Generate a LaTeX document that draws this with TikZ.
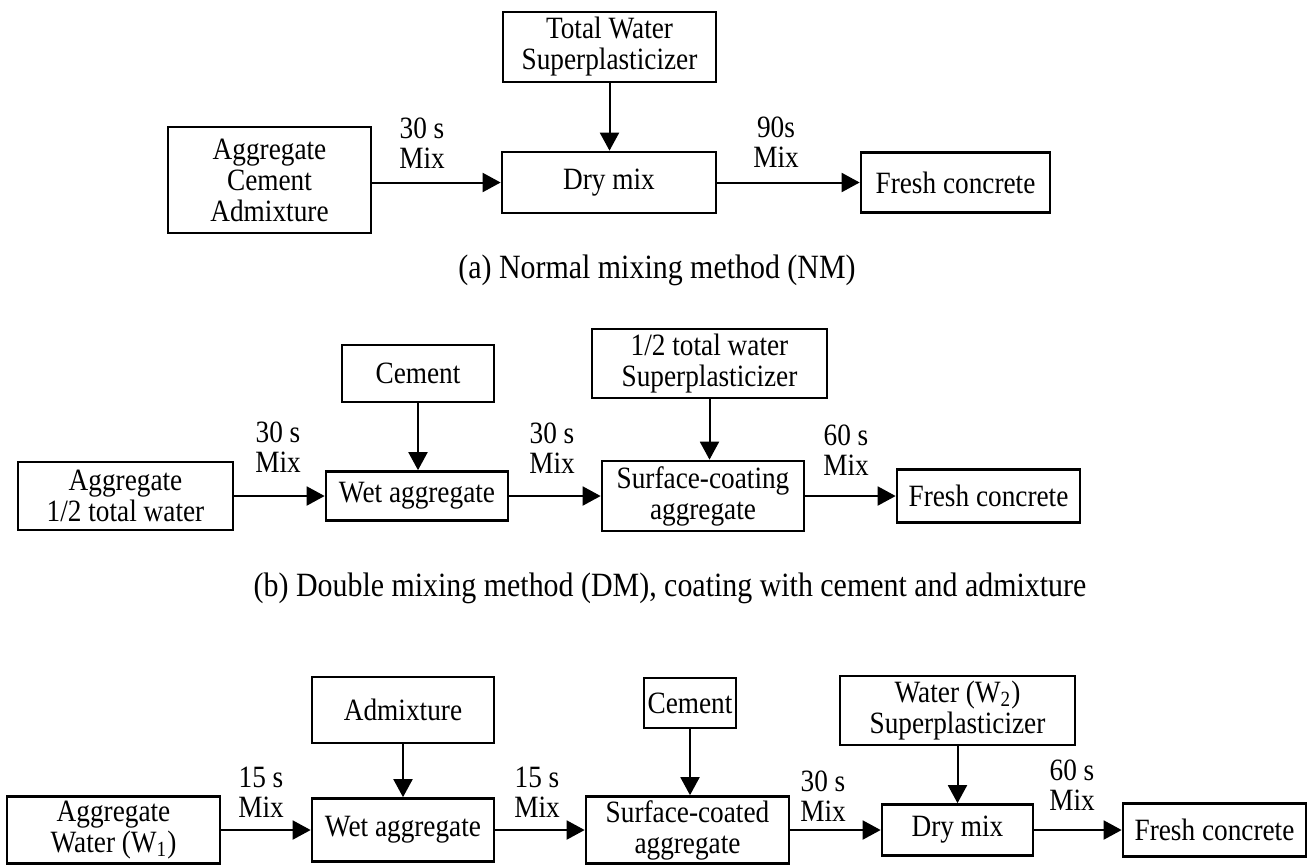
\documentclass[tikz,border=0pt]{standalone}
\usepackage{fontspec}
\setmainfont{Liberation Serif}[FakeStretch=0.88]
\usetikzlibrary{arrows.meta}

\begin{document}
\begin{tikzpicture}[x=0.5pt,y=-0.5pt,
        box/.style={draw,line width=1.35pt,inner sep=0pt,align=center,
            font=\fontsize{15.5}{15.5}\selectfont},
        lbl/.style={inner sep=0pt,align=center,font=\fontsize{15.5}{15}\selectfont},
        captxt/.style={inner sep=0pt,font=\fontsize{17}{17}\selectfont},
        arr/.style={line width=1pt,-{Triangle[length=9pt,width=9.5pt]}}]
        \useasboundingbox (0,0) rectangle (1310,864);
        % (a) normal mixing
        \node[box,minimum width=101.5pt,minimum height=53pt] (aggA) at (269.5,180) {Aggregate\\Cement\\Admixture};
        \node[box,minimum width=106.5pt,minimum height=35pt] (topA) at (609.5,47) {Total Water\\Superplasticizer};
        \node[box,minimum width=107pt,minimum height=30.5pt] (dryA) at (609,182.5) {Dry mix};
        \node[box,minimum width=94.5pt,minimum height=30pt] (freshA) at (955.5,182.5) {Fresh concrete};
        \node[lbl] (mixA1) at (422,143) {30 s\\Mix};
        \node[lbl] (mixA2) at (776,142) {90s\\Mix};
        \node[captxt] (capA) at (657,270) {(a) Normal mixing method (NM)};
        \draw[arr] (aggA.east |- dryA) -- (dryA.west);
        \draw[arr] (dryA) -- (freshA);
        \draw[arr] (topA.south) -- (topA.south |- dryA.north);
        % (b) double mixing
        \node[box,minimum width=107.5pt,minimum height=34pt] (aggB) at (125.5,496) {Aggregate\\1/2 total water};
        \node[box,minimum width=76pt,minimum height=28.5pt] (cemB) at (418,373.5) {Cement};
        \node[box,minimum width=91pt,minimum height=24.5pt] (wetB) at (417,496) {Wet aggregate};
        \node[box,minimum width=117.5pt,minimum height=34.5pt] (waterB) at (709.5,363.5) {1/2 total water\\Superplasticizer};
        \node[box,minimum width=101pt,minimum height=35pt] (coatB) at (703,496) {Surface-coating\\aggregate};
        \node[box,minimum width=91.5pt,minimum height=26.5pt] (freshB) at (988.5,496) {Fresh concrete};
        \node[lbl] (mixB1) at (278,447) {30 s\\Mix};
        \node[lbl] (mixB2) at (552,448) {30 s\\Mix};
        \node[lbl] (mixB3) at (846,450) {60 s\\Mix};
        \node[captxt] (capB) at (670,588) {(b) Double mixing method (DM), coating with cement and admixture};
        \draw[arr] (aggB) -- (wetB);
        \draw[arr] (wetB) -- (coatB);
        \draw[arr] (coatB) -- (freshB);
        \draw[arr] (cemB.south) -- (cemB.south |- wetB.north);
        \draw[arr] (waterB.south) -- (waterB.south |- coatB.north);
        % (c) triple mixing, cut off at the bottom
        \node[box,minimum width=106.5pt,minimum height=33.5pt] (aggC) at (113.5,830) {Aggregate\\Water (W\textsubscript{1})};
        \node[box,minimum width=91pt,minimum height=33pt] (admC) at (403,710) {Admixture};
        \node[box,minimum width=91pt,minimum height=31.5pt] (wetC) at (403,830) {Wet aggregate};
        \node[box,minimum width=46pt,minimum height=25pt] (cemC) at (690,703) {Cement};
        \node[box,minimum width=101.5pt,minimum height=33.5pt] (coatC) at (687.5,830) {Surface-coated\\aggregate};
        \node[box,minimum width=117.5pt,minimum height=34.5pt] (waterC) at (957.5,710.5) {Water (W\textsubscript{2})\\Superplasticizer};
        \node[box,minimum width=75.5pt,minimum height=25.5pt] (dryC) at (957.5,830) {Dry mix};
        \node[box,minimum width=91.5pt,minimum height=26.5pt] (freshC) at (1214.5,830) {Fresh concrete};
        \node[lbl] (mixC1) at (261,792) {15 s\\Mix};
        \node[lbl] (mixC2) at (537,792) {15 s\\Mix};
        \node[lbl] (mixC3) at (823,796) {30 s\\Mix};
        \node[lbl] (mixC4) at (1072,785) {60 s\\Mix};
        \draw[arr] (aggC) -- (wetC);
        \draw[arr] (wetC) -- (coatC);
        \draw[arr] (coatC) -- (dryC);
        \draw[arr] (dryC) -- (freshC);
        \draw[arr] (admC) -- (wetC);
        \draw[arr] (cemC.south) -- (cemC.south |- coatC.north);
        \draw[arr] (waterC) -- (dryC);
       \end{tikzpicture}
\end{document}
